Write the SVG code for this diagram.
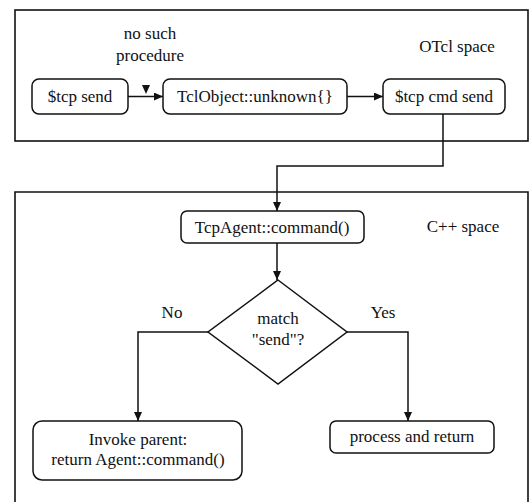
<svg xmlns="http://www.w3.org/2000/svg" width="531" height="502" viewBox="0 0 531 502">
<defs>
<marker id="ah" markerUnits="userSpaceOnUse" markerWidth="10" markerHeight="8" refX="9" refY="4" orient="auto">
<path d="M0,0 L9,4 L0,8 Z" fill="#111"/>
</marker>
<style>
.frame{fill:none;stroke:#111;stroke-width:1.6}
.node{fill:#fff;stroke:#111;stroke-width:1.5}
.t{font-family:"Liberation Serif","Times New Roman",serif;font-size:17px;fill:#111;text-anchor:middle}
.c{fill:none;stroke:#111;stroke-width:1.5}
</style>
</defs>
<rect width="531" height="502" fill="#fff"/>
<g id="otcl-space">
<rect class="frame" x="15" y="10" width="513" height="131"/>
<text class="t" x="457" y="52">OTcl space</text>
</g>
<g id="cpp-space">
<path class="frame" d="M15,505 V192 H528 V505"/>
<text class="t" x="463" y="232">C++ space</text>
</g>
<g id="tcp-send">
<rect class="node" x="32" y="79" width="96" height="35" rx="7"/>
<text class="t" x="80" y="102">$tcp send</text>
</g>
<g id="tclobject-unknown">
<rect class="node" x="163" y="79" width="184" height="35" rx="7"/>
<text class="t" x="255" y="102">TclObject::unknown{}</text>
</g>
<g id="tcp-cmd-send">
<rect class="node" x="383" y="79" width="122" height="35" rx="7"/>
<text class="t" x="444" y="102">$tcp cmd send</text>
</g>
<g id="no-such-procedure">
<text class="t" x="150" y="39">no such</text>
<text class="t" x="150" y="61">procedure</text>
<path d="M142,85 L150,85 L146,94 Z" fill="#111"/>
</g>
<g id="tcpagent-command">
<rect class="node" x="181" y="211" width="183" height="32" rx="6"/>
<text class="t" x="272" y="233">TcpAgent::command()</text>
</g>
<g id="match-send">
<path class="node" d="M278,280 L347,332 L278,384 L208,332 Z"/>
<text class="t" x="278" y="324">match</text>
<text class="t" x="278" y="345">"send"?</text>
</g>
<g id="invoke-parent">
<rect class="node" x="33" y="421" width="209" height="59" rx="9"/>
<text class="t" x="138" y="445">Invoke parent:</text>
<text class="t" x="138" y="465">return Agent::command()</text>
</g>
<g id="process-and-return">
<rect class="node" x="330" y="421" width="164" height="32" rx="6"/>
<text class="t" x="412" y="442">process and return</text>
</g>
<g id="connectors">
<line class="c" x1="128" y1="96.5" x2="163" y2="96.5" stroke-width="2.2" marker-end="url(#ah)"/>
<line class="c" x1="347" y1="96.5" x2="383" y2="96.5" stroke-width="1.2" marker-end="url(#ah)"/>
<path class="c" d="M443,114 V166 H277 V211" marker-end="url(#ah)"/>
<line class="c" x1="277" y1="243" x2="277" y2="280" marker-end="url(#ah)"/>
<path class="c" d="M208,332 H138 V421" marker-end="url(#ah)"/>
<path class="c" d="M347,332 H408 V421" marker-end="url(#ah)"/>
<text class="t" x="172" y="318">No</text>
<text class="t" x="383" y="318">Yes</text>
</g>
</svg>
